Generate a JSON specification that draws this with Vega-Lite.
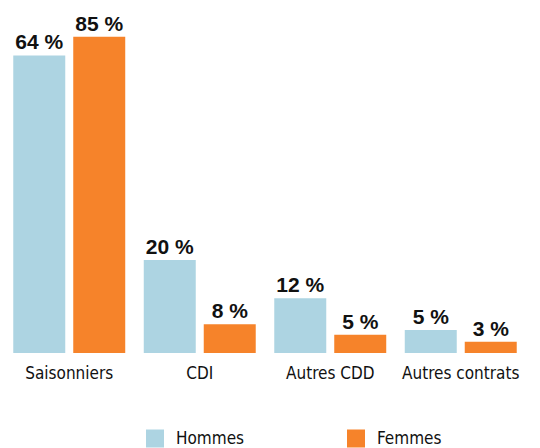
{
  "$schema": "https://vega.github.io/schema/vega-lite/v6.json",
  "autosize": {"type": "none"},
  "padding": {"left": 4, "top": 27.5, "right": 14, "bottom": 95},
  "width": 522,
  "height": 325.5,
  "background": "white",
  "config": {"view": {"stroke": null}},
  "data": {
    "values": [
      {"contrat": "Saisonniers", "sexe": "Hommes", "hauteur": 64, "etiquette": "64 %"},
      {"contrat": "Saisonniers", "sexe": "Femmes", "hauteur": 68, "etiquette": "85 %"},
      {"contrat": "CDI", "sexe": "Hommes", "hauteur": 20, "etiquette": "20 %"},
      {"contrat": "CDI", "sexe": "Femmes", "hauteur": 6.2, "etiquette": "8 %"},
      {"contrat": "Autres CDD", "sexe": "Hommes", "hauteur": 11.8, "etiquette": "12 %"},
      {"contrat": "Autres CDD", "sexe": "Femmes", "hauteur": 3.9, "etiquette": "5 %"},
      {"contrat": "Autres contrats", "sexe": "Hommes", "hauteur": 4.95, "etiquette": "5 %"},
      {"contrat": "Autres contrats", "sexe": "Femmes", "hauteur": 2.4, "etiquette": "3 %"}
    ]
  },
  "encoding": {
    "x": {
      "field": "contrat", "type": "nominal", "sort": null, "title": null,
      "scale": {"paddingInner": 0.142, "paddingOuter": 0.071},
      "axis": {
        "domain": false, "ticks": false, "tickSize": 0, "labelAngle": 0,
        "labelPadding": 12, "labelFontSize": 17, "labelColor": "#111111",
        "labelFont": "DejaVu Sans Condensed, sans-serif",
        "grid": false
      }
    },
    "xOffset": {
      "field": "sexe", "type": "nominal", "sort": ["Hommes", "Femmes"],
      "scale": {"paddingInner": 0.1333, "paddingOuter": 0}
    },
    "y": {
      "field": "hauteur", "type": "quantitative",
      "scale": {"domain": [0, 70], "nice": false, "zero": true},
      "axis": null
    }
  },
  "layer": [
    {
      "mark": {"type": "bar"},
      "encoding": {
        "color": {
          "field": "sexe", "type": "nominal",
          "scale": {"domain": ["Hommes", "Femmes"], "range": ["#add4e2", "#f6832a"]},
          "legend": {
            "title": null, "orient": "none", "direction": "horizontal",
            "legendX": 142, "legendY": 402,
            "symbolType": "square", "symbolSize": 324, "symbolStrokeWidth": 0,
            "symbolOpacity": 1,
            "labelFontSize": 17, "labelColor": "#111111",
            "labelFont": "DejaVu Sans Condensed, sans-serif",
            "labelOffset": 12, "columnPadding": 102, "labelLimit": 200
          }
        }
      }
    },
    {
      "mark": {
        "type": "text", "baseline": "alphabetic", "dy": -6,
        "font": "Liberation Sans, Arial, sans-serif", "fontWeight": "bold",
        "fontSize": 21, "color": "#111111"
      },
      "encoding": {
        "text": {"field": "etiquette", "type": "nominal"}
      }
    }
  ]
}
